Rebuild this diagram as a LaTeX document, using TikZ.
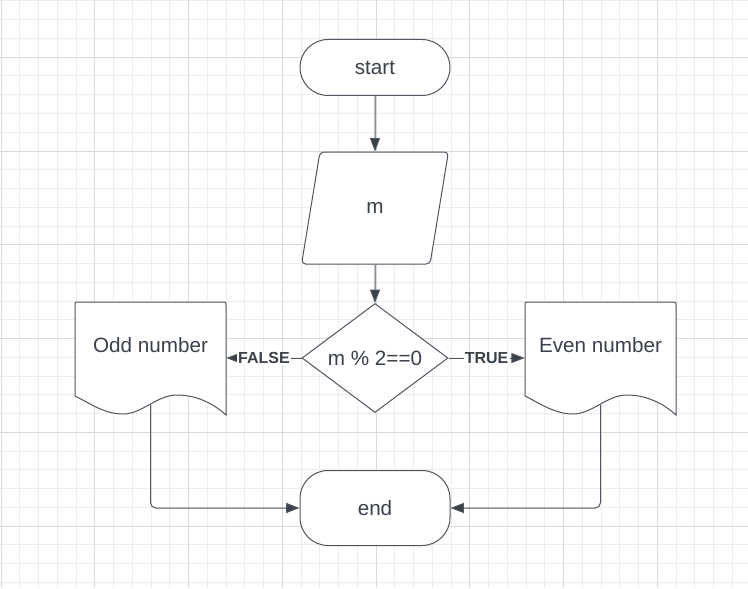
\documentclass[tikz,border=0pt]{standalone}
\usepackage{fontspec}
\setmainfont{Liberation Sans}
\usepackage{xcolor}
\usepackage{tikz}
\usetikzlibrary{shapes.geometric}
\usetikzlibrary{arrows.meta}

\definecolor{ink}{HTML}{3A414A}
\definecolor{edge}{HTML}{4F565F}
\definecolor{gridlight}{HTML}{EDEDED}
\definecolor{griddark}{HTML}{DADADA}

\tikzset{
  box/.style={draw=edge, fill=white, line width=0.75pt, text=ink, font=\fontsize{15.5}{18}\selectfont, inner sep=0pt},
  terminal/.style={box, rectangle, rounded corners=21pt, minimum width=112.5pt},
  datain/.style={box, trapezium, trapezium left angle=75.5, trapezium right angle=104.5, trapezium stretches=true, rounded corners=3pt, minimum width=110.25pt, minimum height=84pt},
  decision/.style={box, diamond, aspect=1.34, minimum width=109.5pt, minimum height=81.75pt},
  docbox/.style={rectangle, inner sep=0pt, minimum width=113.25pt, minimum height=84.75pt},
  doctext/.style={text=ink, font=\fontsize{15.5}{18}\selectfont, yshift=9.75pt},
  flow/.style={draw=edge, line width=0.75pt, -{Triangle[length=10pt, width=7.5pt, fill=ink]}},
  flowlabel/.style={fill=white, text=ink, inner sep=1pt, font=\bfseries\fontsize{12}{14}\selectfont},
  gridminor/.style={draw=gridlight, line width=0.75pt},
  gridmajor/.style={draw=griddark, line width=0.75pt}
}

% document symbol, #1 = left edge
\newcommand{\docshape}[1]{%
  \draw[draw=edge, fill=white, line width=0.75pt]
    (#1,396) -- (#1,305.5) .. controls (#1,302) .. ({#1+3.5},302)
    -- ({#1+147.5},302) .. controls ({#1+151},302) .. ({#1+151},305.5)
    -- ({#1+151},415)
    .. controls ({#1+139},404) and ({#1+122},395) .. ({#1+102},395)
    .. controls ({#1+82},395) and ({#1+67},414) .. ({#1+48},414)
    .. controls ({#1+30},414) and ({#1+16},404) .. (#1,396) -- cycle;
}

\begin{document}
\begin{tikzpicture}[x=0.75pt,y=-0.75pt]
			\useasboundingbox[fill=white] (0,0) rectangle (748,588);

			%% grid
			\foreach \i in {0,...,39} \draw[gridminor] ({1+18.75*\i},0) -- ({1+18.75*\i},588);
			\foreach \j in {0,...,31} \draw[gridminor] (0,{1+18.75*\j}) -- (748,{1+18.75*\j});
			\foreach \i in {0,...,7} \draw[gridmajor] ({1+93.75*\i},0) -- ({1+93.75*\i},588);
			\foreach \j in {0,...,5} \draw[gridmajor] (0,{57.25+93.75*\j}) -- (748,{57.25+93.75*\j});

			\docshape{75}
			\docshape{525}

			\node[terminal, minimum height=42pt] (start) at (375,67.5) {start};
			\node[datain] (m) at (375,208) {m};
			\node[decision] (dec) at (375,358) {m \% 2==0};
			\node[docbox, label={[doctext]center:Odd number}] (odd) at (150.5,358) {};
			\node[docbox, label={[doctext]center:Even number}] (even) at (600.5,358) {};
			\node[terminal, minimum height=56.25pt] (finish) at (375,508) {end};

			\coordinate (oddtail) at (150.5,405);
			\coordinate (eventail) at (600.5,405);

			%% lines
			\draw[flow] (start) -- (m);
			\draw[flow] (m) -- (dec);
			\draw[flow] (dec) -- node[flowlabel]{FALSE} (odd);
			\draw[flow] (dec) -- node[flowlabel]{TRUE} (even);
			\draw[flow, rounded corners=4pt] (oddtail) |- (finish);
			\draw[flow, rounded corners=4pt] (eventail) |- (finish);
		\end{tikzpicture}
\end{document}
